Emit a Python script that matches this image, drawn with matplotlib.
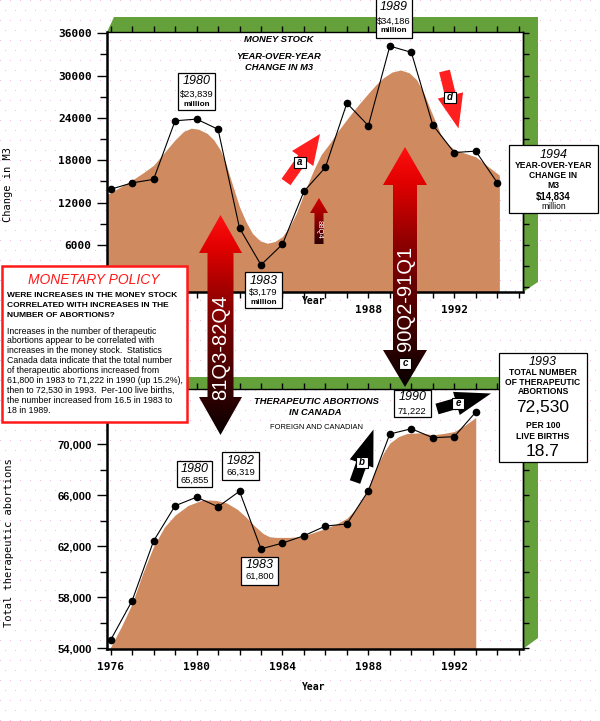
import numpy as np
import matplotlib
matplotlib.use('Agg')
import matplotlib.pyplot as plt
import matplotlib.font_manager as fm
from matplotlib.patches import Polygon, Rectangle
from matplotlib.colors import LinearSegmentedColormap

W, H = 600, 721

# ---------------- data ----------------
m3_years = [1976, 1977, 1978, 1979, 1980, 1981, 1982, 1983, 1984, 1985,
            1986, 1987, 1988, 1989, 1990, 1991, 1992, 1993, 1994]
m3_change = [13900, 14800, 15300, 23600, 23839, 22400, 8400, 3179, 6100, 13600,
             17000, 26100, 22900, 34186, 33300, 23000, 19100, 19300, 14834]
m3_trend_years = [1975.85, 1976.0, 1976.5, 1977.0, 1977.5, 1978.0, 1978.5, 1979.0,
                  1979.4, 1979.75, 1980.1, 1980.5, 1980.8, 1981.1, 1981.35, 1981.55,
                  1981.8, 1982.0, 1982.3, 1982.6, 1982.95, 1983.3, 1983.65, 1984.0,
                  1984.35, 1984.65, 1985.0, 1985.45, 1985.8, 1986.2, 1986.65, 1987.1,
                  1987.55, 1988.0, 1988.35, 1988.7, 1989.1, 1989.5, 1989.9, 1990.25,
                  1990.6, 1990.9, 1991.15, 1991.35, 1991.65, 1992.0, 1992.5, 1993.0,
                  1993.5, 1994.1]
m3_trend = [13200, 13400, 14300, 15200, 16200, 17300, 19100, 20900,
            22100, 22550, 22400, 21800, 20900, 19500, 17700, 15700,
            13300, 11400, 9300, 7650, 6600, 6250, 6500, 7200,
            8700, 10500, 13300, 16600, 18800, 20400, 22400, 24200,
            25900, 27500, 28700, 29700, 30500, 30800, 30400, 29400,
            27400, 25100, 23300, 21800, 20400, 19500, 19000, 18500,
            17300, 15900]

ab_years = [1976, 1977, 1978, 1979, 1980, 1981, 1982, 1983, 1984,
            1985, 1986, 1987, 1988, 1989, 1990, 1991, 1992, 1993]
abortions = [54650, 57730, 62420, 65180, 65855, 65100, 66319, 61800, 62250,
             62830, 63590, 63750, 66360, 70810, 71222, 70520, 70600, 72530]
ab_trend_years = [1975.95, 1976.0, 1976.5, 1977.0, 1977.5, 1978.0, 1978.5, 1979.0,
                  1979.6, 1980.3, 1980.9, 1981.4, 1981.9, 1982.3, 1982.7, 1983.1,
                  1983.4, 1983.7, 1984.3, 1984.8, 1985.4, 1986.0, 1986.5, 1987.0,
                  1987.4, 1987.8, 1988.1, 1988.4, 1988.7, 1989.0, 1989.4, 1989.8,
                  1990.4, 1991.0, 1991.5, 1992.0, 1992.5, 1993.0]
ab_trend = [53950, 54100, 55700, 57500, 59900, 62000, 63500, 64450,
            65200, 65650, 65600, 65400, 64900, 64300, 63600, 63000,
            62750, 62700, 62700, 62750, 63050, 63400, 63750, 64200,
            64900, 65900, 67000, 68250, 69300, 70100, 70600, 70850,
            70900, 70750, 70850, 71000, 71500, 72100]

top_year_ticks = [1988, 1992]
top_year_labels = ['1988', '1992']
bot_year_ticks = [1976, 1980, 1984, 1988, 1992]
bot_year_labels = ['1976', '1980', '1984', '1988', '1992']
m3_ticks = [6000, 12000, 18000, 24000, 30000, 36000]
m3_labels = ['6000', '12000', '18000', '24000', '30000', '36000']
ab_ticks = [54000, 58000, 62000, 66000, 70000]
ab_labels = ['54,000', '58,000', '62,000', '66,000', '70,000']

monetary_question = ["WERE INCREASES IN THE MONEY STOCK",
                     "CORRELATED WITH INCREASES IN THE",
                     "NUMBER OF ABORTIONS?"]
monetary_body = ["Increases in the number of therapeutic",
                 "abortions appear to be correlated with",
                 "increases in the money stock.  Statistics",
                 "Canada data indicate that the total number",
                 "of therapeutic abortions increased from",
                 "61,800 in 1983 to 71,222 in 1990 (up 15.2%),",
                 "then to 72,530 in 1993.  Per-100 live births,",
                 "the number increased from 16.5 in 1983 to",
                 "18 in 1989."]

# ---------------- fonts ----------------
names = {f.name for f in fm.fontManager.ttflist}
HAS_NARROW = 'Liberation Sans Narrow' in names
NARROW = 'Liberation Sans Narrow' if HAS_NARROW else 'Liberation Sans'
NK = 1.0 if HAS_NARROW else 0.84
SANS = 'Liberation Sans'
MONO = 'DejaVu Sans Mono'

BROWN = '#cf8a60'
GREEN = '#64a13b'

fig = plt.figure(figsize=(W / 100, H / 100), dpi=100)
fig.patch.set_facecolor('white')


def rect(l, t, r, b):
    return [l / W, 1 - b / H, (r - l) / W, (b - t) / H]


# ---------------- background layer ----------------
bg = fig.add_axes([0, 0, 1, 1], zorder=0)
bg.set_xlim(0, W)
bg.set_ylim(H, 0)
bg.axis('off')
gx, gy = np.meshgrid(np.arange(0, W, 10), np.arange(0, H, 10))
gx = gx + (np.arange(gy.shape[0])[:, None] % 2) * 5
bg.scatter(gx.ravel(), gy.ravel(), s=0.5, c='#f3b6ea', linewidths=0)
for pts in ([(107, 32), (114, 17), (538, 17), (538, 282), (523, 292), (523, 32)],
            [(107, 389), (113, 377), (538, 377), (538, 638), (523, 649), (523, 389)]):
    bg.add_patch(Polygon(pts, closed=True, fc=GREEN, ec='none'))


def style_axes(ax, yticks, ylabels, yminor, rticks, xticks, xlabels, yfont):
    ax.set_facecolor('none')
    ax.set_xlim(1975.83, 1995.2)
    ax.set_xticks(xticks)
    ax.set_xticklabels(xlabels, fontfamily=MONO, fontweight='bold', fontsize=8)
    ax.set_xticks(range(1976, 1996), minor=True)
    ax.tick_params(axis='x', which='both', top=True, bottom=True, direction='out',
                   length=4.5, width=1, pad=5)
    ax.set_yticks(yticks)
    ax.set_yticklabels(ylabels, **yfont)
    ax.set_yticks(yminor, minor=True)
    ax.tick_params(axis='y', which='major', length=7.5, width=1, pad=3.5, right=False)
    ax.tick_params(axis='y', which='minor', length=5, width=1, right=False)
    for s in ('left', 'bottom'):
        ax.spines[s].set_linewidth(1.8)
    for s in ('top', 'right'):
        ax.spines[s].set_linewidth(1.0)
    sec = ax.secondary_yaxis('right')
    sec.set_yticks(rticks)
    sec.tick_params(length=4.5, width=1, labelright=False)
    sec.spines['right'].set_linewidth(1.0)


# ---------------- top chart ----------------
ax1 = fig.add_axes(rect(107, 32, 523, 292), zorder=2)
ylo1, yhi1 = -660, 36180
ax1.set_ylim(ylo1, yhi1)
ax1.fill_between(m3_trend_years, m3_trend, ylo1, color=BROWN, lw=0, zorder=1)
ax1.plot(m3_years, m3_change, '-o', color='black', lw=0.8, ms=4.5, zorder=3)
style_axes(ax1, m3_ticks, m3_labels, np.arange(0, 36001, 3000), np.arange(0, 36001, 3000),
           top_year_ticks, top_year_labels,
           dict(fontfamily=MONO, fontweight='bold', fontsize=8))

# ---------------- bottom chart ----------------
ax2 = fig.add_axes(rect(107, 389, 523, 649), zorder=2)
ylo2, yhi2 = 53945, 74340
ax2.set_ylim(ylo2, yhi2)
ax2.fill_between(ab_trend_years, ab_trend, ylo2, color=BROWN, lw=0, zorder=1)
ax2.plot(ab_years, abortions, '-o', color='black', lw=0.8, ms=4.5, zorder=3)
style_axes(ax2, ab_ticks, ab_labels, np.arange(54000, 74001, 2000), np.arange(54000, 74001, 2000),
           bot_year_ticks, bot_year_labels,
           dict(fontfamily=SANS, fontweight='bold', fontsize=8))

# ---------------- overlay ----------------
ov = fig.add_axes([0, 0, 1, 1], zorder=10)
ov.set_facecolor('none')
ov.axis('off')


def lims():
    ov.set_xlim(0, W)
    ov.set_ylim(H, 0)


lims()


def T(x, y, s, size, family=SANS, weight='normal', style='normal', color='black',
      ha='center', va='center', rot=0, narrow=False, z=30):
    if narrow:
        family = NARROW
        size = size * NK
    ov.text(x, y, s, fontsize=size, fontfamily=family, fontweight=weight,
            fontstyle=style, color=color, ha=ha, va=va, rotation=rot, zorder=z)


def box(x0, y0, x1, y1, lw=0.9, ec='black', fc='white', z=20):
    ov.add_patch(Rectangle((x0, y0), x1 - x0, y1 - y0, fc=fc, ec=ec, lw=lw, zorder=z))


def grad_poly(pts, cmap, z=15):
    poly = Polygon(pts, closed=True, fc='none', ec='none')
    ov.add_patch(poly)
    xs = [p[0] for p in pts]
    ys = [p[1] for p in pts]
    grad = np.linspace(0, 1, 256).reshape(-1, 1)
    im = ov.imshow(grad, cmap=cmap, extent=(min(xs), max(xs), max(ys), min(ys)),
                   origin='upper', aspect='auto', interpolation='bilinear', zorder=z)
    im.set_clip_path(poly)
    lims()


def double_arrow(cx, ty, hb1, hb2, by, hw, sw):
    return [(cx, ty), (cx + hw, hb1), (cx + sw, hb1), (cx + sw, hb2), (cx + hw, hb2),
            (cx, by), (cx - hw, hb2), (cx - sw, hb2), (cx - sw, hb1), (cx - hw, hb1)]


def arrow_pts(tail, tip, sw, hw, hl):
    tail = np.array(tail, float)
    tip = np.array(tip, float)
    u = (tip - tail) / np.linalg.norm(tip - tail)
    n = np.array([-u[1], u[0]])
    base = tip - u * hl
    return [tuple(tail + n * sw / 2), tuple(base + n * sw / 2), tuple(base + n * hw / 2),
            tuple(tip), tuple(base - n * hw / 2), tuple(base - n * sw / 2),
            tuple(tail - n * sw / 2)]


big_cmap = LinearSegmentedColormap.from_list(
    'bigarrow', [(0, '#ff1010'), (0.15, '#e00000'), (0.4, '#8e0000'),
                 (0.7, '#4a0000'), (1, '#080000')])
small_cmap = LinearSegmentedColormap.from_list(
    'smallarrow', [(0, '#d80000'), (0.5, '#8a0000'), (1, '#2a0000')])

# big arrows
grad_poly(double_arrow(220.5, 215, 253, 397, 435, 21.5, 13), big_cmap)
T(221, 347, '81Q3-82Q4', 14.5, color='white', rot=90)
grad_poly(double_arrow(405, 147, 185, 350, 387, 22, 12), big_cmap)
T(405.5, 298, '90Q2-91Q1', 14.5, color='white', rot=90)
# small 88Q4 arrow
grad_poly([(319, 198), (328, 213), (323.5, 213), (323.5, 244), (314.5, 244),
           (314.5, 213), (310, 213)], small_cmap)
T(319.5, 229, '88Q4', 5.5, color='white', rot=-90)

# small direction arrows
ov.add_patch(Polygon(arrow_pts((286, 182), (320, 134), 11, 26, 30), fc='#ff1f1f', ec='none', zorder=16))
ov.add_patch(Polygon(arrow_pts((444.5, 71), (458.5, 128.5), 11, 26, 34), fc='#ff1f1f', ec='none', zorder=16))
ov.add_patch(Polygon(arrow_pts((355, 482), (373.5, 429.5), 11, 25, 36), fc='black', ec='none', zorder=16))
ov.add_patch(Polygon(arrow_pts((437, 409), (491, 393.5), 11, 24, 36), fc='black', ec='none', zorder=16))

for (cx, cy, s) in [(300, 162, 'a'), (362, 462, 'b'), (405, 363, 'c'), (450, 97, 'd'), (458, 403, 'e')]:
    box(cx - 6, cy - 5.5, cx + 6, cy + 5.5, lw=0.8)
    T(cx, cy, s, 7, weight='bold', style='italic')

# titles
T(279, 40, 'MONEY STOCK', 8, weight='bold', style='italic', narrow=True)
T(279, 56.5, 'YEAR-OVER-YEAR', 8, weight='bold', style='italic', narrow=True)
T(279, 67.5, 'CHANGE IN M3', 8, weight='bold', style='italic', narrow=True)
T(316, 401.5, 'THERAPEUTIC ABORTIONS', 8, weight='bold', style='italic', narrow=True)
T(315, 412.3, 'IN CANADA', 8, weight='bold', style='italic', narrow=True)
T(316.5, 427.7, 'FOREIGN AND CANADIAN', 5.4)

# axis labels
T(8.5, 184, 'Change in M3', 7.5, family=MONO, rot=90)
T(9.5, 543, 'Total therapeutic abortions', 7.5, family=MONO, rot=90)
T(314, 301, 'Year', 7, family=MONO, weight='bold')
T(314, 687, 'Year', 7, family=MONO, weight='bold')

# value boxes - top chart
box(178.3, 73.3, 215, 110.5)
T(196.7, 81.5, '1980', 9, style='italic')
T(196.7, 94.3, '$23,839', 8, narrow=True)
T(196.7, 104, 'million', 7, narrow=True, weight='bold')

box(376, -2, 412.3, 37.7)
T(394, 7, '1989', 9, style='italic')
T(394, 21, '$34,186', 8, narrow=True)
T(394, 31, 'million', 7, narrow=True, weight='bold')

box(245, 271.5, 281.5, 308)
T(263.3, 280.5, '1983', 9, style='italic')
T(263.3, 292.3, '$3,179', 8, narrow=True)
T(263.3, 302.7, 'million', 7, narrow=True, weight='bold')

box(509.3, 145.3, 598.3, 213.3)
T(553.5, 154.5, '1994', 9, style='italic')
T(553.5, 165.7, 'YEAR-OVER-YEAR', 7.3, weight='bold', narrow=True)
T(553.5, 175.7, 'CHANGE IN', 7.3, weight='bold', narrow=True)
T(553.5, 185, 'M3', 7.3, weight='bold', narrow=True)
T(553.5, 196.7, '$14,834', 8.3, weight='bold', narrow=True)
T(553.5, 206.3, 'million', 7.3, narrow=True)

# value boxes - bottom chart
box(177.3, 461, 212.3, 487.3)
T(194.8, 469.3, '1980', 9, style='italic')
T(194.8, 480.8, '65,855', 8, narrow=True)
box(222.3, 452.3, 259.3, 480)
T(240.8, 461.3, '1982', 9, style='italic')
T(240.8, 472.8, '66,319', 8, narrow=True)
box(241, 556.7, 278.3, 585)
T(259.7, 564.5, '1983', 9, style='italic')
T(259.7, 576.8, '61,800', 8, narrow=True)
box(394, 390, 430.7, 417.3)
T(412.3, 397, '1990', 9, style='italic')
T(412.3, 411, '71,222', 8, narrow=True)

box(498.5, 352.5, 587, 461.5)
T(543, 361.8, '1993', 9, style='italic')
T(543, 372.3, 'TOTAL NUMBER', 7.3, weight='bold', narrow=True)
T(543, 382.3, 'OF THERAPEUTIC', 7.3, weight='bold', narrow=True)
T(543, 391.8, 'ABORTIONS', 7.3, weight='bold', narrow=True)
T(543, 407, '72,530', 12.5)
T(543, 426, 'PER 100', 7.3, weight='bold', narrow=True)
T(543, 436.7, 'LIVE BIRTHS', 7.3, weight='bold', narrow=True)
T(543, 451.5, '18.7', 12.5)

# monetary policy box
box(2, 265.5, 186.5, 421.5, lw=1.8, ec='#ff1a1a')
T(94, 279.5, 'MONETARY POLICY', 10, style='italic', color='#ff1a1a')
for i, line in enumerate(monetary_question):
    T(7, 295.2 + i * 10.3, line, 7.2, weight='bold', ha='left', narrow=True)
for i, line in enumerate(monetary_body):
    T(7, 331 + i * 9.95, line, 7.5, ha='left', narrow=True)

fig.savefig('out.png', dpi=100)
